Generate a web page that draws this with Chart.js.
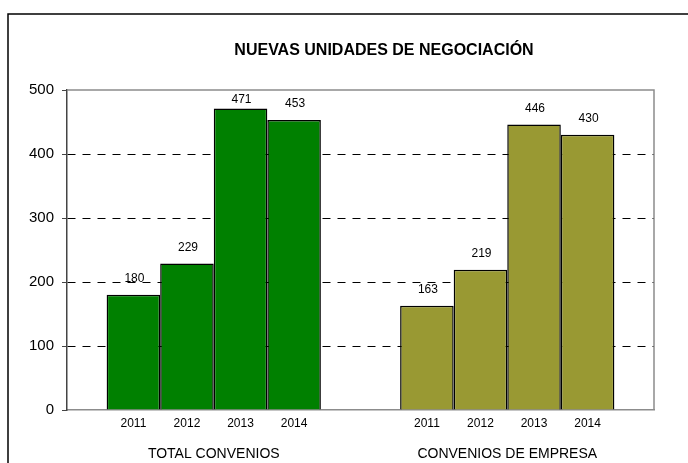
<!DOCTYPE html>
<html>
<head>
<meta charset="utf-8">
<script src="https://cdn.jsdelivr.net/npm/chart.js@4"></script>
<style>
    body { margin: 0; background: #fff; }
    #wrap { width: 688px; height: 463px; position: relative; }
</style>
</head>
<body>
<div id="wrap"><canvas id="myChart"></canvas></div>
<script>
const titleText = 'NUEVAS UNIDADES DE NEGOCIACIÓN';
const groups = ['TOTAL CONVENIOS', 'CONVENIOS DE EMPRESA'];
const years = ['2011', '2012', '2013', '2014'];
const totalConvenios = [180, 229, 471, 453];
const conveniosEmpresa = [163, 219, 446, 430];
const yTicks = [0, 100, 200, 300, 400, 500];
const groupColors = ['#008000', '#999933'];

const font = '"Liberation Sans", Arial, sans-serif';

// one dataset per year, one bar per group
const datasets = years.map((year, i) => ({
    label: year,
    data: [totalConvenios[i], conveniosEmpresa[i]],
    backgroundColor: groupColors,
    borderColor: '#000',
    borderWidth: 1.5,
    borderSkipped: 'bottom',
    categoryPercentage: 0.73,
    barPercentage: 1
}));

const decor = {
    id: 'decor',
    beforeDraw(chart) {
        const ctx = chart.ctx;
        ctx.save();
        ctx.strokeStyle = '#000';
        ctx.lineWidth = 1.5;
        ctx.beginPath();
        ctx.moveTo(8, 463);
        ctx.lineTo(8, 14);
        ctx.lineTo(688, 14);
        ctx.stroke();
        ctx.restore();
    },
    beforeDatasetsDraw(chart) {
        const a = chart.chartArea;
        const ctx = chart.ctx;
        ctx.save();
        ctx.strokeStyle = '#8c8c8c';
        ctx.lineWidth = 1.5;
        ctx.beginPath();
        ctx.moveTo(a.left, a.top);
        ctx.lineTo(a.right, a.top);
        ctx.lineTo(a.right, a.bottom);
        ctx.stroke();
        ctx.restore();
    },
    afterDatasetsDraw(chart) {
        const a = chart.chartArea;
        const ctx = chart.ctx;
        ctx.save();
        ctx.fillStyle = '#000';
        ctx.textAlign = 'center';
        ctx.textBaseline = 'middle';
        ctx.font = 'bold 16px ' + font;
        ctx.fillText(titleText, 384, 51);
        chart.data.datasets.forEach((ds, i) => {
            chart.getDatasetMeta(i).data.forEach((bar, j) => {
                ctx.font = '12px ' + font;
                let y = Math.max(bar.y - 16, a.top + 10);
                ctx.fillText(String(ds.data[j]), bar.x + 1, y);
                ctx.fillText(ds.label, bar.x, a.bottom + 14);
            });
        });
        ctx.restore();
    }
};

new Chart(document.getElementById('myChart'), {
    type: 'bar',
    data: { labels: groups, datasets: datasets },
    options: {
        responsive: true,
        maintainAspectRatio: false,
        animation: false,
        layout: { padding: { left: 7, right: 34, top: 90, bottom: 0 } },
        plugins: {
            legend: { display: false },
            tooltip: { enabled: false }
        },
        scales: {
            x: {
                afterFit: s => { s.height = 53; },
                grid: { display: false, drawTicks: false },
                border: { display: true, color: '#8c8c8c', width: 1.5 },
                ticks: { color: '#000', padding: 36, font: { family: font, size: 14 } }
            },
            y: {
                min: 0,
                max: 500,
                afterFit: s => { s.width = 60; },
                afterBuildTicks: s => { s.ticks = yTicks.map(v => ({ value: v })); },
                grid: {
                    color: c => (c.tick && (c.tick.value === 0 || c.tick.value === 500)) ? 'rgba(0,0,0,0)' : '#000',
                    tickColor: '#444',
                    tickLength: 5,
                    lineWidth: 1
                },
                border: { display: true, color: '#444', width: 1.5, dash: [8, 7] },
                ticks: { color: '#000', padding: 8, font: { family: font, size: 15 } }
            }
        }
    },
    plugins: [decor]
});
</script>
</body>
</html>
